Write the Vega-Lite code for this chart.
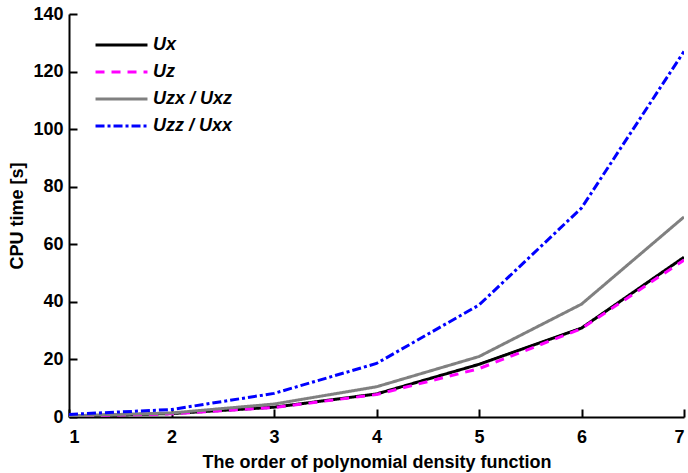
{
  "$schema": "https://vega.github.io/schema/vega-lite/v6.json",
  "autosize": "none",
  "width": 615,
  "height": 403,
  "padding": {"left": 69, "top": 14, "right": 4, "bottom": 56},
  "background": "white",
  "config": {
    "view": {"stroke": null},
    "font": "Liberation Sans",
    "axis": {
      "grid": false,
      "domainColor": "black",
      "domainWidth": 2,
      "tickColor": "black",
      "tickWidth": 2,
      "tickSize": -8,
      "labelFont": "Liberation Sans",
      "labelFontWeight": "bold",
      "labelFontSize": 18,
      "labelColor": "black",
      "titleFont": "Liberation Sans",
      "titleFontWeight": "bold",
      "titleFontSize": 18,
      "titleColor": "black"
    }
  },
  "data": {
    "values": [
      {"order": 1, "series": "Ux", "time": 0.3},
      {"order": 2, "series": "Ux", "time": 1.2},
      {"order": 3, "series": "Ux", "time": 3.4},
      {"order": 4, "series": "Ux", "time": 8.0},
      {"order": 5, "series": "Ux", "time": 18.3},
      {"order": 6, "series": "Ux", "time": 30.9},
      {"order": 7, "series": "Ux", "time": 55.5},
      {"order": 1, "series": "Uz", "time": 0.3},
      {"order": 2, "series": "Uz", "time": 1.1},
      {"order": 3, "series": "Uz", "time": 3.3},
      {"order": 4, "series": "Uz", "time": 7.8},
      {"order": 5, "series": "Uz", "time": 16.8},
      {"order": 6, "series": "Uz", "time": 30.7},
      {"order": 7, "series": "Uz", "time": 54.5},
      {"order": 1, "series": "Uzx / Uxz", "time": 0.4},
      {"order": 2, "series": "Uzx / Uxz", "time": 1.4},
      {"order": 3, "series": "Uzx / Uxz", "time": 4.5},
      {"order": 4, "series": "Uzx / Uxz", "time": 10.5},
      {"order": 5, "series": "Uzx / Uxz", "time": 21.0},
      {"order": 6, "series": "Uzx / Uxz", "time": 39.2},
      {"order": 7, "series": "Uzx / Uxz", "time": 69.5},
      {"order": 1, "series": "Uzz / Uxx", "time": 0.9},
      {"order": 2, "series": "Uzz / Uxx", "time": 2.6},
      {"order": 3, "series": "Uzz / Uxx", "time": 8.2},
      {"order": 4, "series": "Uzz / Uxx", "time": 18.6},
      {"order": 5, "series": "Uzz / Uxx", "time": 38.9},
      {"order": 6, "series": "Uzz / Uxx", "time": 72.6},
      {"order": 7, "series": "Uzz / Uxx", "time": 127.0}
    ]
  },
  "mark": {"type": "line", "strokeWidth": 3, "clip": true},
  "encoding": {
    "x": {
      "field": "order",
      "type": "quantitative",
      "title": "The order of polynomial density function",
      "scale": {"domain": [1, 7], "nice": false},
      "axis": {"values": [1, 2, 3, 4, 5, 6, 7], "format": "d", "labelPadding": 19, "titlePadding": 7}
    },
    "y": {
      "field": "time",
      "type": "quantitative",
      "title": "CPU time [s]",
      "scale": {"domain": [0, 140], "nice": false},
      "axis": {"values": [0, 20, 40, 60, 80, 100, 120, 140], "labelPadding": 14, "titlePadding": 6}
    },
    "color": {
      "field": "series",
      "type": "nominal",
      "scale": {
        "domain": ["Ux", "Uz", "Uzx / Uxz", "Uzz / Uxx"],
        "range": ["#000000", "#ff00ff", "#808080", "#0000ff"]
      },
      "legend": {
        "title": null,
        "orient": "none",
        "legendX": 25,
        "legendY": 21,
        "symbolType": "stroke",
        "symbolSize": 2700,
        "symbolStrokeWidth": 3,
        "clipHeight": 20,
        "labelFont": "Liberation Sans",
        "labelFontSize": 18,
        "labelFontWeight": "bold",
        "labelFontStyle": "italic",
        "labelColor": "black",
        "rowPadding": 7,
        "labelOffset": 4
      }
    },
    "strokeDash": {
      "field": "series",
      "type": "nominal",
      "scale": {
        "domain": ["Ux", "Uz", "Uzx / Uxz", "Uzz / Uxx"],
        "range": [[1, 0], [9, 7], [1, 0], [9, 3, 3, 3]]
      },
      "legend": null
    }
  }
}
